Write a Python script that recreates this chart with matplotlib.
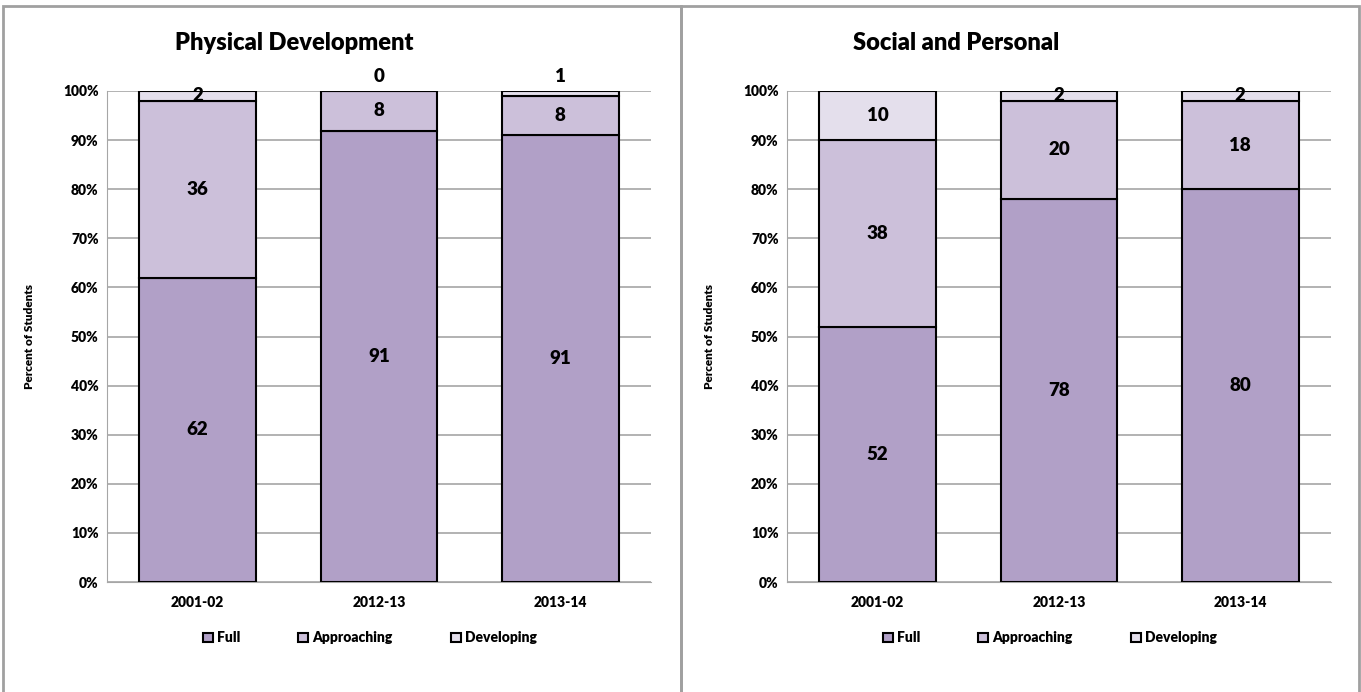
import matplotlib
matplotlib.use("Agg")
import matplotlib.pyplot as plt
import numpy as np
from matplotlib.patches import Rectangle

plt.rcParams['font.family'] = ['Lato', 'DejaVu Sans']
plt.rcParams['font.weight'] = 'heavy'

years = ["2001-02", "2012-13", "2013-14"]
series = ["Full", "Approaching", "Developing"]
colors = ["#B1A0C7", "#CCC0DA", "#E4DFEC"]

# Physical Development
phys_full = [62, 91, 91]
phys_appr = [36, 8, 8]
phys_dev = [2, 0, 1]

# Social and Personal
soc_full = [52, 78, 80]
soc_appr = [38, 20, 18]
soc_dev = [10, 2, 2]

panels = [
    ("Physical Development", [phys_full, phys_appr, phys_dev]),
    ("Social and Personal", [soc_full, soc_appr, soc_dev]),
]

fig = plt.figure(figsize=(13.61, 6.92), dpi=100)
W, H = 1361, 692

# panel frames
for x0, x1 in [(3, 681), (681, 1359)]:
    fig.patches.append(Rectangle((x0 / W, -0.05), (x1 - x0) / W, 1 - 6 / H + 0.05,
                                 transform=fig.transFigure, fill=False,
                                 edgecolor="#A0A0A0", linewidth=2))

ax_left = [107, 787]
title_x = [294, 956]
for (title, data), left, tx in zip(panels, ax_left, title_x):
    ax = fig.add_axes([left / W, 1 - 582 / H, 544 / W, (582 - 91) / H])
    vals = np.array(data, dtype=float)
    totals = vals.sum(axis=0)
    pct = vals / totals * 100
    x = np.arange(len(years))
    bottom = np.zeros(len(years))
    for i, name in enumerate(series):
        ax.bar(x, pct[i], 0.645, bottom=bottom, color=colors[i], edgecolor="black",
               linewidth=1.5, label=name, zorder=3)
        for j in range(len(years)):
            v = vals[i][j]
            yc = bottom[j] + pct[i][j] / 2
            if pct[i][j] < 1.5:
                yc = 100 + 2.9
            ax.text(x[j], yc, f"{int(v)}", ha="center", va="center",
                    fontsize=13.5, fontweight="heavy", zorder=5, clip_on=False)
        bottom += pct[i]
    ax.set_xlim(-0.5, 2.5)
    ax.set_ylim(0, 100)
    ax.set_yticks(np.arange(0, 101, 10))
    ax.set_yticklabels([f"{t}%" for t in range(0, 101, 10)])
    ax.set_xticks(x)
    ax.set_xticklabels(years)
    ax.tick_params(axis="both", length=0, labelsize=10, pad=6)
    ax.tick_params(axis="x", pad=10)
    ax.yaxis.grid(True, color="#A6A6A6", linewidth=1.2, zorder=0)
    for s in ["top", "right"]:
        ax.spines[s].set_visible(False)
    ax.spines["left"].set_color("#A6A6A6")
    ax.spines["bottom"].set_color("#A6A6A6")
    ax.set_ylabel("Percent of Students", fontsize=8.5, fontweight="heavy", labelpad=20)
    fig.text(tx / W, 1 - 43 / H, title, ha="center", va="center",
             fontsize=17, fontweight="heavy")
    ax.legend(loc="center", bbox_to_anchor=(0.483, -0.114), ncol=3, frameon=False,
              fontsize=10, handlelength=0.7, handleheight=0.7, handletextpad=0.3,
              columnspacing=4.2)

fig.savefig("out.png", dpi=100)
